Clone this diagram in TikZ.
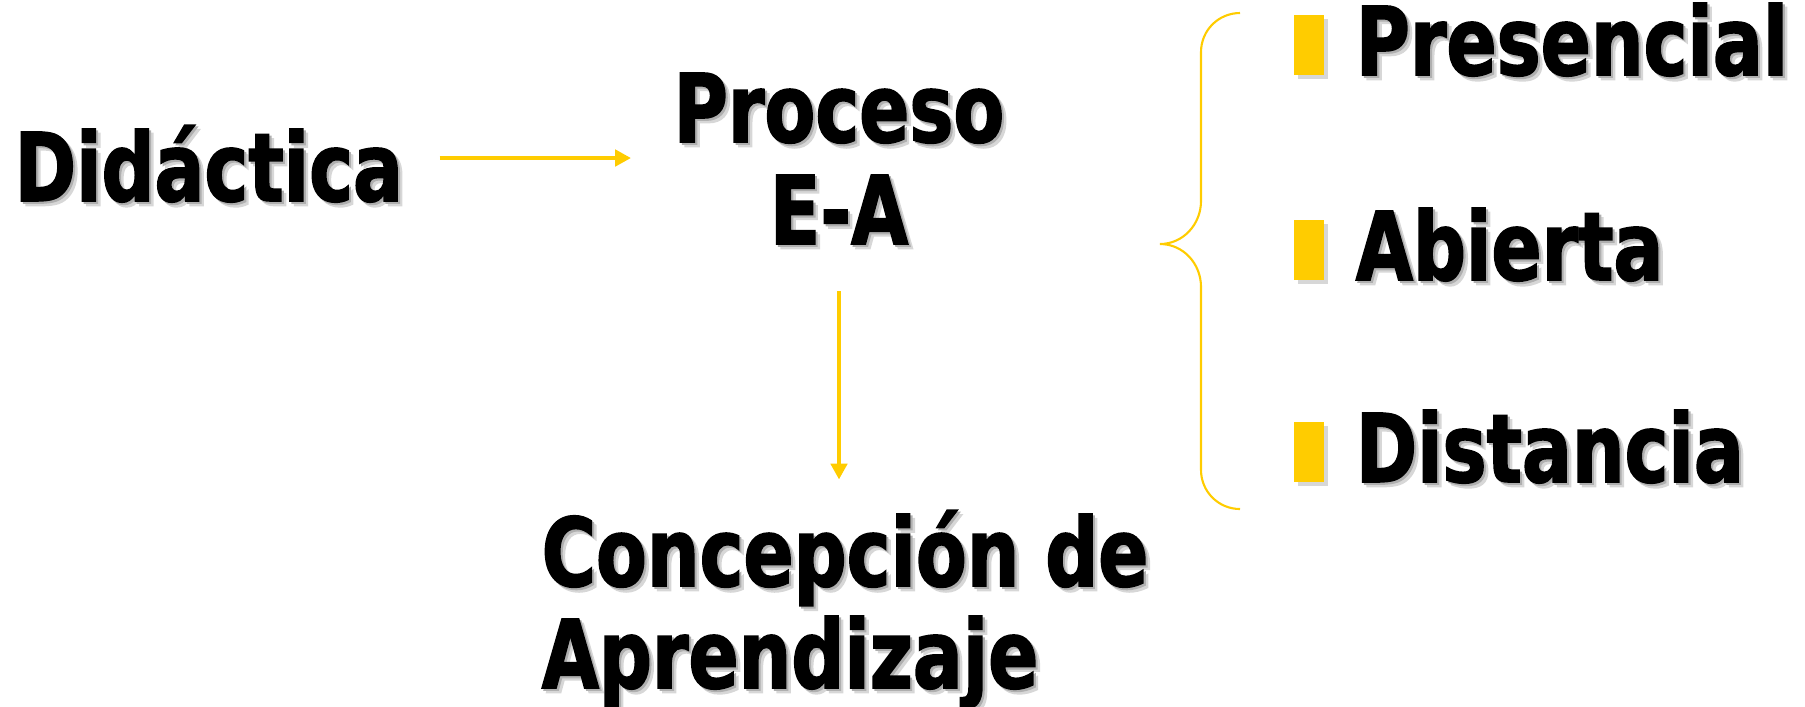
\documentclass[tikz,border=0pt]{standalone}
\usepackage{fontspec}
\newfontfamily\letra[FakeStretch=0.78,BoldFeatures={FakeBold=1.6}]{DejaVu Sans}
\usetikzlibrary{calc,arrows.meta}
\definecolor{amarillo}{RGB}{255,204,0}
\definecolor{gris}{RGB}{215,215,215}
\definecolor{grisos}{RGB}{175,175,175}
\newcommand\consombra[1]{\rlap{\kern1.3pt\raisebox{-1.3pt}{\color{gris}#1}}\rlap{\kern0.6pt\raisebox{-0.6pt}{\color{grisos}#1}}#1}

\begin{document}
\begin{tikzpicture}[x=1cm,y=1cm,
    texto/.style={inner sep=0pt,font=\letra\bfseries\fontsize{27}{29}\selectfont},
    flecha/.style={amarillo,line width=1.4pt,-{Triangle[length=4.5pt,width=4.6pt]}}]
    \useasboundingbox (0,0) rectangle (18.05,-7.06);

    % nodos
    \node[texto,anchor=base west] (did) at (0.14,-2.01) {\consombra{Didáctica}};
    \node[texto,anchor=base,align=center] (pea) at (8.39,-2.44) {\consombra{Proceso}\\\consombra{E-A}};
    \node[texto,anchor=base west,align=left] (con) at (5.41,-6.88) {\consombra{Concepción de}\\\consombra{Aprendizaje}};

    % modalidades
    \node[texto,anchor=base west] (pre) at (13.55,-0.75) {\consombra{Presencial}};
    \node[texto,anchor=base west] (abi) at (13.55,-2.80) {\consombra{Abierta}};
    \node[texto,anchor=base west] (dis) at (13.55,-4.82) {\consombra{Distancia}};

    % flechas
    \draw[flecha] ($(did.base east)+(0.36,0.43)$) -- ($(did.base east -| pea.west)+(-0.42,0.43)$);
    \draw[flecha] ($(pea.south)+(0,-0.42)$) -- ($(pea.south |- con.north)+(0,0.3)$);

    % llave
    \draw[amarillo,line width=0.6pt] (12.40,-0.13) to[out=180,in=90] (12.01,-0.52) -- (12.01,-2.01)
        to[out=-90,in=0] (11.60,-2.44) to[out=0,in=90] (12.01,-2.87) -- (12.01,-4.70)
        to[out=-90,in=180] (12.40,-5.09);

    % viñetas
    \foreach \n in {pre,abi,dis}{
        \fill[gris] ($(\n.base west)+(-0.57,-0.04)$) rectangle ++(0.30,0.60);
        \fill[amarillo] ($(\n.base west)+(-0.61,0)$) rectangle ++(0.30,0.60);
    }
\end{tikzpicture}
\end{document}
